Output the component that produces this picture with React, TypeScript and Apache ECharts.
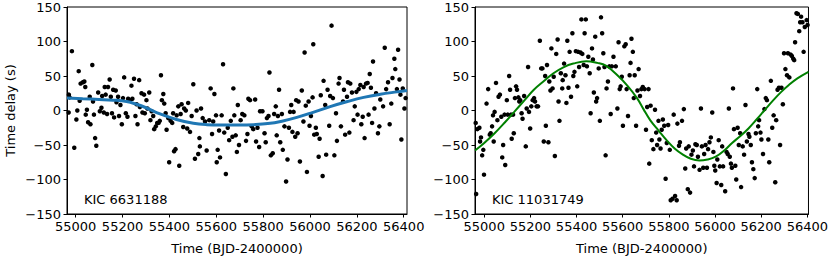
import React, { useEffect, useRef } from "react";
import * as echarts from "echarts";

// KIC 6631188 (left panel): [time BJD-2400000, delay s]
const leftPoints: [number, number][] = [
  [54971,23],[54974,19],[54970,-3],[54984,86],[54994,-54],[55003,-13],[55007,0],[55013,57],[55017,14],[55021,39],
  [55031,41],[55037,42],[55041,34],[55043,-6],[55048,1],[55053,-17],[55060,20],[55063,-20],[55071,66],[55074,13],
  [55078,-6],[55083,-40],[55088,-51],[55096,26],[55103,-1],[55110,4],[55113,21],[55120,-3],[55124,34],[55128,23],
  [55134,-5],[55138,34],[55145,45],[55150,20],[55155,-4],[55160,30],[55164,-10],[55171,29],[55174,12],[55181,20],
  [55185,-8],[55191,8],[55197,-20],[55202,18],[55207,48],[55214,-4],[55221,-9],[55224,17],[55231,15],[55238,36],
  [55242,17],[55249,46],[55255,-8],[55260,9],[55264,-20],[55271,44],[55274,5],[55281,25],[55285,-3],[55292,23],
  [55295,-4],[55302,15],[55306,3],[55314,26],[55319,-14],[55324,-1],[55331,-8],[55335,-27],[55342,-23],[55348,-18],
  [55354,-18],[55359,-15],[55364,51],[55368,15],[55374,24],[55378,10],[55384,-4],[55388,-28],[55395,-11],[55399,-75],
  [55405,-15],[55412,-18],[55416,-4],[55420,-59],[55426,-56],[55431,-7],[55438,6],[55442,-80],[55448,-5],[55452,9],
  [55459,-24],[55463,3],[55470,0],[55476,-26],[55480,11],[55488,-31],[55495,-8],[55502,38],[55509,-70],[55516,0],
  [55523,-63],[55528,-40],[55530,-52],[55535,3],[55542,-11],[55552,-16],[55559,-58],[55570,-14],[55576,32],[55582,-34],
  [55587,-16],[55592,24],[55599,-7],[55602,-75],[55606,-57],[55612,-29],[55616,-68],[55623,-7],[55629,67],[55634,-32],
  [55641,-92],[55649,-25],[55655,-43],[55662,-15],[55669,-38],[55673,32],[55677,-7],[55683,-36],[55688,-60],[55692,8],
  [55697,-50],[55704,-14],[55711,-5],[55720,-7],[55727,-44],[55733,-34],[55737,17],[55744,15],[55751,-23],[55758,-27],
  [55766,16],[55770,-45],[55776,-25],[55783,-53],[55787,-1],[55797,-1],[55806,-33],[55811,-46],[55816,-11],[55823,-8],
  [55827,55],[55833,-65],[55841,-62],[55847,-5],[55854,6],[55858,-36],[55863,-8],[55868,30],[55873,-46],[55880,-5],
  [55884,-57],[55891,-23],[55898,-103],[55904,-71],[55910,-25],[55915,-2],[55920,8],[55925,-31],[55930,-2],[55937,-38],
  [55941,15],[55947,-33],[55951,13],[55957,-74],[55965,29],[55972,-16],[55977,84],[55982,7],[55987,-89],[55994,13],
  [55998,-22],[56004,-8],[56011,19],[56014,96],[56018,-35],[56025,-25],[56029,-34],[56037,-67],[56041,-41],[56046,22],
  [56054,-95],[56058,43],[56065,8],[56069,-64],[56075,30],[56082,-22],[56086,21],[56092,123],[56098,18],[56104,-65],
  [56111,-4],[56115,-44],[56122,39],[56126,47],[56132,-23],[56141,13],[56145,30],[56150,-35],[56158,20],[56162,41],
  [56168,-32],[56172,39],[56179,26],[56186,-14],[56191,6],[56198,27],[56203,-6],[56208,31],[56215,37],[56219,-20],
  [56225,-9],[56229,34],[56233,-40],[56239,39],[56246,40],[56250,-6],[56255,53],[56260,33],[56265,-18],[56269,71],
  [56275,3],[56282,25],[56290,-33],[56296,-23],[56300,16],[56312,6],[56319,91],[56325,31],[56333,41],[56340,-20],
  [56347,10],[56352,47],[56360,75],[56364,60],[56371,31],[56376,88],[56382,45],[56386,23],[56390,-42],[56396,32],
  [56403,3],[56408,18]
];

// KIC 11031749 (right panel)
const rightPoints: [number, number][] = [
  [54963,-18],[54965,-121],[54970,-27],[54979,-25],[54982,-45],[54986,-39],[54991,-65],[54996,-57],[54999,-93],[55010,10],
  [55017,31],[55024,-35],[55028,-33],[55034,-23],[55038,-7],[55041,-45],[55045,-2],[55051,40],[55057,-14],[55062,20],
  [55068,23],[55074,-9],[55078,-68],[55082,-50],[55088,-6],[55091,-79],[55098,15],[55102,-6],[55108,50],[55112,30],
  [55116,-6],[55119,-41],[55125,-6],[55128,-33],[55133,18],[55138,35],[55142,30],[55148,19],[55152,13],[55156,15],
  [55162,-4],[55166,-12],[55173,21],[55180,-52],[55184,3],[55190,63],[55194,-2],[55199,-26],[55204,6],[55210,15],
  [55216,18],[55220,13],[55227,6],[55233,6],[55241,101],[55247,61],[55252,61],[55258,-45],[55264,50],[55267,-22],
  [55272,66],[55278,-46],[55282,42],[55287,29],[55291,90],[55296,32],[55301,49],[55306,-66],[55312,82],[55318,103],
  [55322,13],[55326,-15],[55332,54],[55338,32],[55340,44],[55346,68],[55352,51],[55356,11],[55360,101],[55365,33],
  [55370,85],[55376,20],[55382,112],[55386,50],[55391,56],[55397,86],[55403,35],[55407,85],[55411,63],[55417,84],
  [55421,132],[55425,82],[55431,66],[55435,112],[55440,132],[55445,64],[55451,78],[55457,54],[55461,-4],[55467,90],
  [55471,74],[55475,26],[55481,107],[55485,13],[55489,18],[55496,61],[55501,-15],[55506,135],[55511,112],[55516,83],
  [55521,63],[55526,-65],[55530,32],[55536,42],[55542,64],[55548,-5],[55553,64],[55560,78],[55570,64],[55577,3],
  [55582,99],[55587,31],[55591,35],[55596,49],[55601,-22],[55607,93],[55613,96],[55617,31],[55623,-8],[55630,51],
  [55634,69],[55638,104],[55644,85],[55648,18],[55652,51],[55658,-22],[55664,29],[55669,60],[55675,21],[55681,31],
  [55687,34],[55695,31],[55701,-28],[55706,5],[55712,31],[55715,-77],[55721,7],[55726,-43],[55733,-56],[55740,1],
  [55745,-32],[55749,-50],[55755,-15],[55759,-42],[55764,-55],[55769,-28],[55774,-13],[55780,-22],[55786,-99],[55791,-47],
  [55797,-21],[55804,-57],[55808,-130],[55816,-128],[55821,-6],[55827,-124],[55834,-130],[55837,-19],[55844,-51],[55848,-46],
  [55857,-15],[55865,2],[55871,-84],[55875,-55],[55882,-114],[55886,-52],[55892,-119],[55898,-64],[55904,-58],[55909,-81],
  [55915,-49],[55921,-50],[55926,-67],[55933,-86],[55939,3],[55943,-52],[55949,-83],[55953,-63],[55959,-50],[55965,-83],
  [55970,-56],[55976,-46],[55982,-39],[55988,-3],[55993,-60],[55997,-80],[56001,-87],[56007,-105],[56010,-71],[56016,-43],
  [56021,-81],[56027,-108],[56031,-52],[56035,-81],[56044,-117],[56050,-60],[56055,-63],[56060,3],[56064,-67],[56069,-77],
  [56073,-83],[56078,32],[56082,-27],[56088,-80],[56092,-100],[56098,-25],[56103,-50],[56109,-33],[56113,-111],[56120,-52],
  [56126,-64],[56132,8],[56138,-45],[56145,-34],[56149,-38],[56155,-50],[56160,-75],[56166,-85],[56172,-98],[56177,-33],
  [56183,31],[56187,-23],[56191,-14],[56197,-32],[56201,-42],[56208,-63],[56214,2],[56220,18],[56225,15],[56231,-42],
  [56235,-75],[56242,43],[56248,-25],[56254,-7],[56261,-104],[56265,-14],[56271,30],[56277,33],[56282,-50],[56288,33],
  [56294,9],[56299,83],[56305,60],[56312,51],[56316,83],[56322,48],[56328,81],[56333,79],[56339,75],[56343,73],
  [56347,99],[56353,141],[56359,140],[56365,115],[56369,128],[56373,136],[56379,128],[56384,85],[56389,121],[56397,131],
  [56401,124]
];

// fitted orbit curves
const leftFit: [number, number][] = [
  [54963,18],[55030,17],[55100,16],[55160,15],[55217,13],[55260,9],[55300,4],[55360,-5],[55430,-13],[55502,-18.5],
  [55560,-20.5],[55620,-21],[55700,-21],[55760,-20.5],[55820,-19],[55880,-15.5],[55944,-10],[56010,-3],[56086,5.6],[56160,13],
  [56229,19],[56300,23.5],[56371,27],[56414,29]
];
const rightFit: [number, number][] = [
  [54960,-58],[55000,-47],[55045,-33],[55090,-17],[55130,-2],[55175,15],[55215,30],[55260,43],[55300,54],[55345,63],
  [55386,68],[55442,71.5],[55490,69],[55527,65],[55577,51],[55620,36],[55662,18],[55690,2],[55719,-14],[55755,-29],
  [55790,-43],[55825,-55],[55861,-64],[55895,-70],[55932,-72.5],[55968,-71],[56003,-67],[56040,-58],[56074,-47],[56110,-37],
  [56145,-26],[56180,-13],[56216,1],[56250,14],[56287,27],[56320,37],[56357,46.5],[56405,56]
];

const xTicks = [55000, 55200, 55400, 55600, 55800, 56000, 56200, 56400];
const leftLabel = "KIC 6631188";
const rightLabel = "KIC 11031749";

const FONT = "DejaVu Sans";
const FS = 13;

function xAxisFor(gridIndex: number, min: number, max: number) {
  return {
    type: "value",
    gridIndex,
    min,
    max,
    splitLine: { show: false },
    axisLine: { onZero: false, lineStyle: { color: "#000", width: 1 } },
    axisTick: { customValues: xTicks, length: 3.5, lineStyle: { color: "#000" } },
    axisLabel: {
      customValues: xTicks,
      color: "#000",
      fontSize: FS,
      fontFamily: FONT,
      margin: 6,
      formatter: (v: number) => String(v),
    },
    name: "Time (BJD-2400000)",
    nameLocation: "middle",
    nameGap: 28,
    nameTextStyle: { color: "#000", fontSize: FS, fontFamily: FONT },
  };
}

function yAxisFor(gridIndex: number, withName: boolean) {
  return {
    type: "value",
    gridIndex,
    min: -150,
    max: 150,
    interval: 50,
    splitLine: { show: false },
    axisLine: { onZero: false, lineStyle: { color: "#000", width: 1 } },
    axisTick: { length: 3.5, lineStyle: { color: "#000" } },
    axisLabel: {
      color: "#000",
      fontSize: FS,
      fontFamily: FONT,
      margin: 6,
      formatter: (v: number) => String(v).replace("-", "\u2212"),
    },
    name: withName ? "Time delay (s)" : "",
    nameLocation: "middle",
    nameGap: 50,
    nameTextStyle: { color: "#000", fontSize: FS, fontFamily: FONT },
  };
}

export default function App() {
  const ref = useRef<HTMLDivElement>(null);
  useEffect(() => {
    if (!ref.current) return;
    const chart = echarts.init(ref.current, null, { renderer: "svg" });
    const gridStyle = {
      show: true,
      borderColor: "#000",
      borderWidth: 1,
      backgroundColor: "transparent",
      containLabel: false,
    };
    chart.setOption({
      animation: false,
      backgroundColor: "#fff",
      textStyle: { fontFamily: FONT },
      grid: [
        { ...gridStyle, left: 67, top: 7, width: 340, height: 207 },
        { ...gridStyle, left: 475, top: 7, width: 339, height: 207 },
      ],
      xAxis: [xAxisFor(0, 54963, 56414), xAxisFor(1, 54960, 56405)],
      yAxis: [yAxisFor(0, true), yAxisFor(1, false)],
      series: [
        {
          type: "scatter",
          xAxisIndex: 0,
          yAxisIndex: 0,
          data: leftPoints,
          symbolSize: 4.5,
          itemStyle: { color: "#000", opacity: 1 },
          z: 2,
        },
        {
          type: "line",
          xAxisIndex: 0,
          yAxisIndex: 0,
          data: leftFit,
          smooth: 0.4,
          showSymbol: false,
          lineStyle: { color: "#1f77b4", width: 3 },
          z: 3,
        },
        {
          type: "scatter",
          xAxisIndex: 1,
          yAxisIndex: 1,
          data: rightPoints,
          symbolSize: 4.5,
          itemStyle: { color: "#000", opacity: 1 },
          z: 2,
        },
        {
          type: "line",
          xAxisIndex: 1,
          yAxisIndex: 1,
          data: rightFit,
          smooth: 0.4,
          showSymbol: false,
          lineStyle: { color: "#008000", width: 2 },
          z: 3,
        },
      ],
      graphic: [
        {
          type: "text",
          left: 84,
          top: 193,
          style: { text: leftLabel, fill: "#000", fontSize: FS, fontFamily: FONT },
        },
        {
          type: "text",
          left: 492,
          top: 193,
          style: { text: rightLabel, fill: "#000", fontSize: FS, fontFamily: FONT },
        },
      ],
    });
    return () => chart.dispose();
  }, []);
  return (
    <div
      ref={ref}
      style={{ position: "absolute", left: 0, top: 0, width: 831, height: 260 }}
    />
  );
}
